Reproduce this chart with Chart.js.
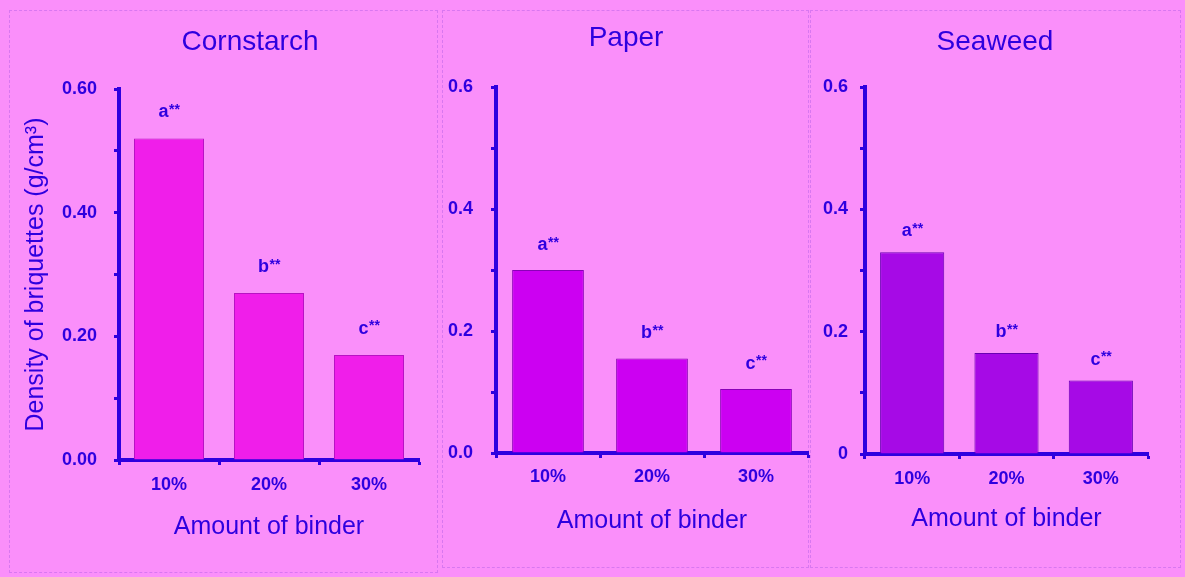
<!DOCTYPE html>
<html>
<head>
<meta charset="utf-8">
<script src="https://cdn.jsdelivr.net/npm/chart.js@4"></script>
<style>
html,body{margin:0;padding:0;background:#FA8FFA;}
body{width:1185px;height:577px;position:relative;overflow:hidden;}
.frame{position:absolute;border:1px dashed rgba(140,70,220,0.3);box-sizing:border-box;}
canvas{position:absolute;top:0;}
</style>
</head>
<body>
<div class="frame" style="left:9px;top:10px;width:429px;height:563px"></div>
<div class="frame" style="left:442px;top:10px;width:367px;height:558px"></div>
<div class="frame" style="left:810px;top:10px;width:371px;height:558px"></div>
<canvas id="c1" width="440" height="577" style="left:0px"></canvas>
<canvas id="c2" width="380" height="577" style="left:440px"></canvas>
<canvas id="c3" width="375" height="577" style="left:810px"></canvas>
<script>
// ---- data ----
const categories = ['10%', '20%', '30%'];
const panelTitles = ['Cornstarch', 'Paper', 'Seaweed'];
const cornstarch = [0.52, 0.27, 0.17];
const paper = [0.30, 0.155, 0.105];
const seaweed = [0.33, 0.165, 0.12];
const significance = ['a', 'b', 'c'];
const sigMark = '**';
const yMax = 0.6;
const yStep = 0.1;
const xTitle = 'Amount of binder';
const yTitle = 'Density of briquettes (g/cm\u00B3)';

// ---- styles ----
const FONT = "'Liberation Sans', Arial, sans-serif";
const INK = '#2E00DF';

const panelTitlePlugin = {
  id: 'panelTitle',
  afterDraw(chart, args, o) {
    const ctx = chart.ctx;
    ctx.save();
    ctx.font = '28px ' + FONT;
    ctx.fillStyle = INK;
    ctx.textAlign = 'center';
    ctx.textBaseline = 'middle';
    ctx.fillText(o.text, o.x, o.y);
    ctx.restore();
  }
};

const sigPlugin = {
  id: 'sigLabels',
  afterDatasetsDraw(chart, args, o) {
    const ctx = chart.ctx;
    const meta = chart.getDatasetMeta(0);
    ctx.save();
    ctx.fillStyle = INK;
    ctx.textBaseline = 'alphabetic';
    ctx.textAlign = 'left';
    meta.data.forEach((bar, i) => {
      const letter = significance[i];
      ctx.font = 'bold 18px ' + FONT;
      const w1 = ctx.measureText(letter).width;
      ctx.font = 'bold 14px ' + FONT;
      const w2 = ctx.measureText(sigMark).width;
      const x0 = bar.x - (w1 + w2) / 2;
      const base = bar.y - o.offset + 5;
      ctx.font = 'bold 18px ' + FONT;
      ctx.fillText(letter, x0, base);
      ctx.font = 'bold 14px ' + FONT;
      ctx.fillText(sigMark, x0 + w1 + 0.5, base - 3.5);
    });
    ctx.restore();
  }
};

function makePanel(id, idx, values, cfg) {
  new Chart(document.getElementById(id), {
    type: 'bar',
    data: {
      labels: categories,
      datasets: [{
        data: values,
        backgroundColor: cfg.fill,
        borderColor: cfg.edge,
        borderWidth: 1,
        barPercentage: cfg.barPct,
        categoryPercentage: 1.0
      }]
    },
    options: {
      responsive: false,
      animation: false,
      events: [],
      layout: { padding: cfg.pad },
      plugins: {
        legend: { display: false },
        tooltip: { enabled: false },
        title: { display: false },
        panelTitle: { text: panelTitles[idx], x: cfg.titleX, y: cfg.titleY },
        sigLabels: { offset: cfg.sigOffset }
      },
      scales: {
        x: {
          grid: { display: true, drawOnChartArea: false, drawTicks: true, tickLength: 5, tickWidth: 3, tickColor: INK, offset: true },
          border: { display: true, color: INK, width: 4 },
          ticks: { color: INK, font: { family: FONT, size: 18, weight: 'bold' }, padding: cfg.xTickPad, maxRotation: 0 },
          title: { display: true, text: xTitle, color: INK, font: { family: FONT, size: 25 }, padding: { top: 0, bottom: cfg.xTitlePad } },
          afterFit(s) { s.height = 90; }
        },
        y: {
          min: 0,
          max: yMax,
          grid: { display: true, drawOnChartArea: false, drawTicks: true, tickLength: 5, tickWidth: 3, tickColor: INK },
          border: { display: true, color: INK, width: 4 },
          ticks: {
            stepSize: yStep,
            color: INK,
            font: { family: FONT, size: 18, weight: 'bold' },
            padding: cfg.yTickPad,
            callback(v) {
              const k = Math.round(v * 10);
              if (k % 2 !== 0) return '';
              return cfg.fmt(k / 10);
            }
          },
          title: cfg.yTitle ? { display: true, text: yTitle, color: INK, font: { family: FONT, size: 25 }, padding: { top: 21, bottom: 0 } } : { display: false },
          afterFit(s) { s.width = cfg.yWidth; }
        }
      }
    },
    plugins: [panelTitlePlugin, sigPlugin]
  });
}

makePanel('c1', 0, cornstarch, {
  fill: '#F01EEA', edge: '#B812C4', barPct: 0.70,
  pad: { left: 0, top: 89, right: 21, bottom: 27 },
  yWidth: 119, yTickPad: 17, xTickPad: 9, xTitlePad: 8,
  titleX: 250, titleY: 42, sigOffset: 26, yTitle: true,
  fmt: v => v.toFixed(2)
});
makePanel('c2', 1, paper, {
  fill: '#CC00F2', edge: '#8A00B8', barPct: 0.69,
  pad: { left: 0, top: 87, right: 12, bottom: 34 },
  yWidth: 56, yTickPad: 18, xTickPad: 8, xTitlePad: 7,
  titleX: 186, titleY: 38, sigOffset: 25, yTitle: false,
  fmt: v => v.toFixed(1)
});
makePanel('c3', 2, seaweed, {
  fill: '#A60AE6', edge: '#6A00B4', barPct: 0.68,
  pad: { left: 0, top: 87, right: 37, bottom: 33 },
  yWidth: 55, yTickPad: 12, xTickPad: 9, xTitlePad: 10,
  titleX: 185, titleY: 42, sigOffset: 21, yTitle: false,
  fmt: v => (v === 0 ? '0' : v.toFixed(1))
});
</script>
</body>
</html>
